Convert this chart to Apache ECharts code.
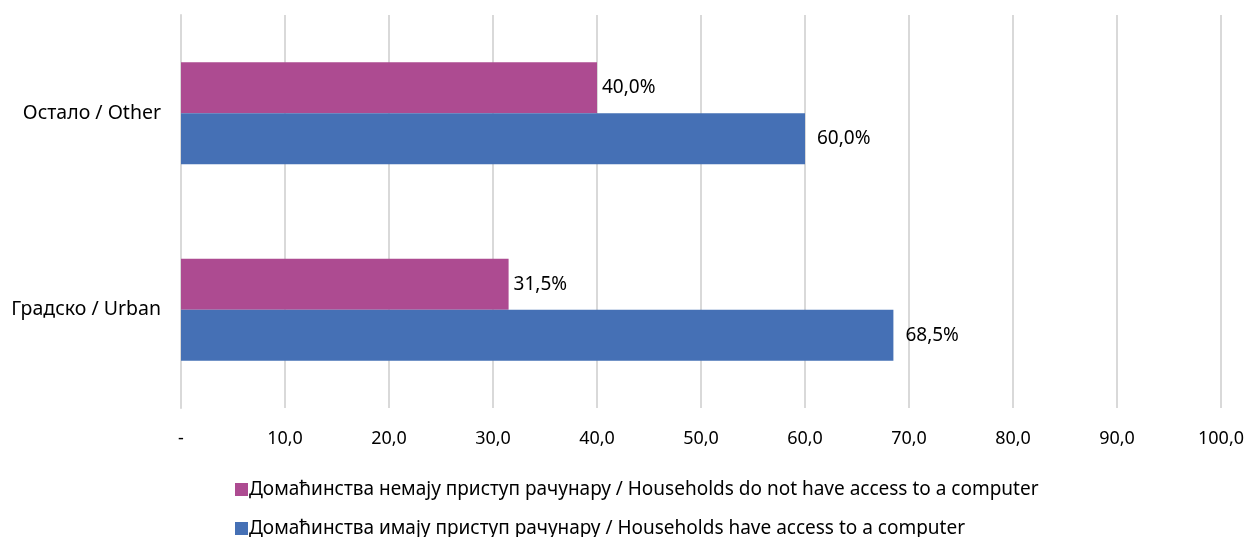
<!DOCTYPE html>
<html>
<head>
<meta charset="utf-8">
<script src="https://cdn.jsdelivr.net/npm/echarts@6/dist/echarts.min.js"></script>
<style>html,body{margin:0;padding:0;background:#fff}#c{width:1251px;height:537px}</style>
</head>
<body>
<div id="c"></div>
<script>
const categories = ['Градско / Urban', 'Остало / Other'];
const noAccess = [31.5, 40.0];
const hasAccess = [68.5, 60.0];
const seriesNames = ['Домаћинства немају приступ рачунару / Households do not have access to a computer',
                     'Домаћинства имају приступ рачунару / Households have access to a computer'];
const xTicks = [0, 10, 20, 30, 40, 50, 60, 70, 80, 90, 100];

const font = 'Noto Sans';
const fmt = v => v.toFixed(1).replace('.', ',');
const legendBase = {
  orient: 'horizontal', left: 230, itemGap: 0,
  itemWidth: 13, itemHeight: 13, icon: 'rect',
  textStyle: { fontSize: 19, color: '#000', fontFamily: font, padding: [0, 0, 0, -4] }
};
const chart = echarts.init(document.getElementById('c'));
chart.setOption({
  animation: false,
  textStyle: { fontFamily: font },
  grid: { left: 181, right: 30, top: 15, bottom: 129 },
  legend: [
    Object.assign({}, legendBase, { top: 475, data: [seriesNames[0]] }),
    Object.assign({}, legendBase, { top: 514, data: [seriesNames[1]] })
  ],
  xAxis: {
    type: 'value', min: xTicks[0], max: xTicks[xTicks.length - 1], interval: 10,
    axisLine: { show: false }, axisTick: { show: false },
    splitLine: { lineStyle: { color: '#d9d9d9', width: 2 } },
    axisLabel: { fontSize: 18, color: '#000', margin: 22,
      formatter: v => v === 0 ? '-' : fmt(v) }
  },
  yAxis: {
    type: 'category', data: categories,
    axisLine: { lineStyle: { color: '#d9d9d9', width: 2 } },
    axisTick: { show: false },
    axisLabel: { fontSize: 19.5, color: '#000', margin: 20 }
  },
  series: [
    { name: seriesNames[0], type: 'bar', data: noAccess, barGap: '0%', barCategoryGap: '48%',
      itemStyle: { color: '#ad4b91' },
      label: { show: true, position: 'right', distance: 5, fontSize: 19, color: '#000', formatter: p => fmt(p.value) + '%' } },
    { name: seriesNames[1], type: 'bar', data: hasAccess, barGap: '0%', barCategoryGap: '48%',
      itemStyle: { color: '#4570b5' },
      label: { show: true, position: 'right', distance: 12, fontSize: 19, color: '#000', formatter: p => fmt(p.value) + '%' } }
  ]
});
</script>
</body>
</html>
